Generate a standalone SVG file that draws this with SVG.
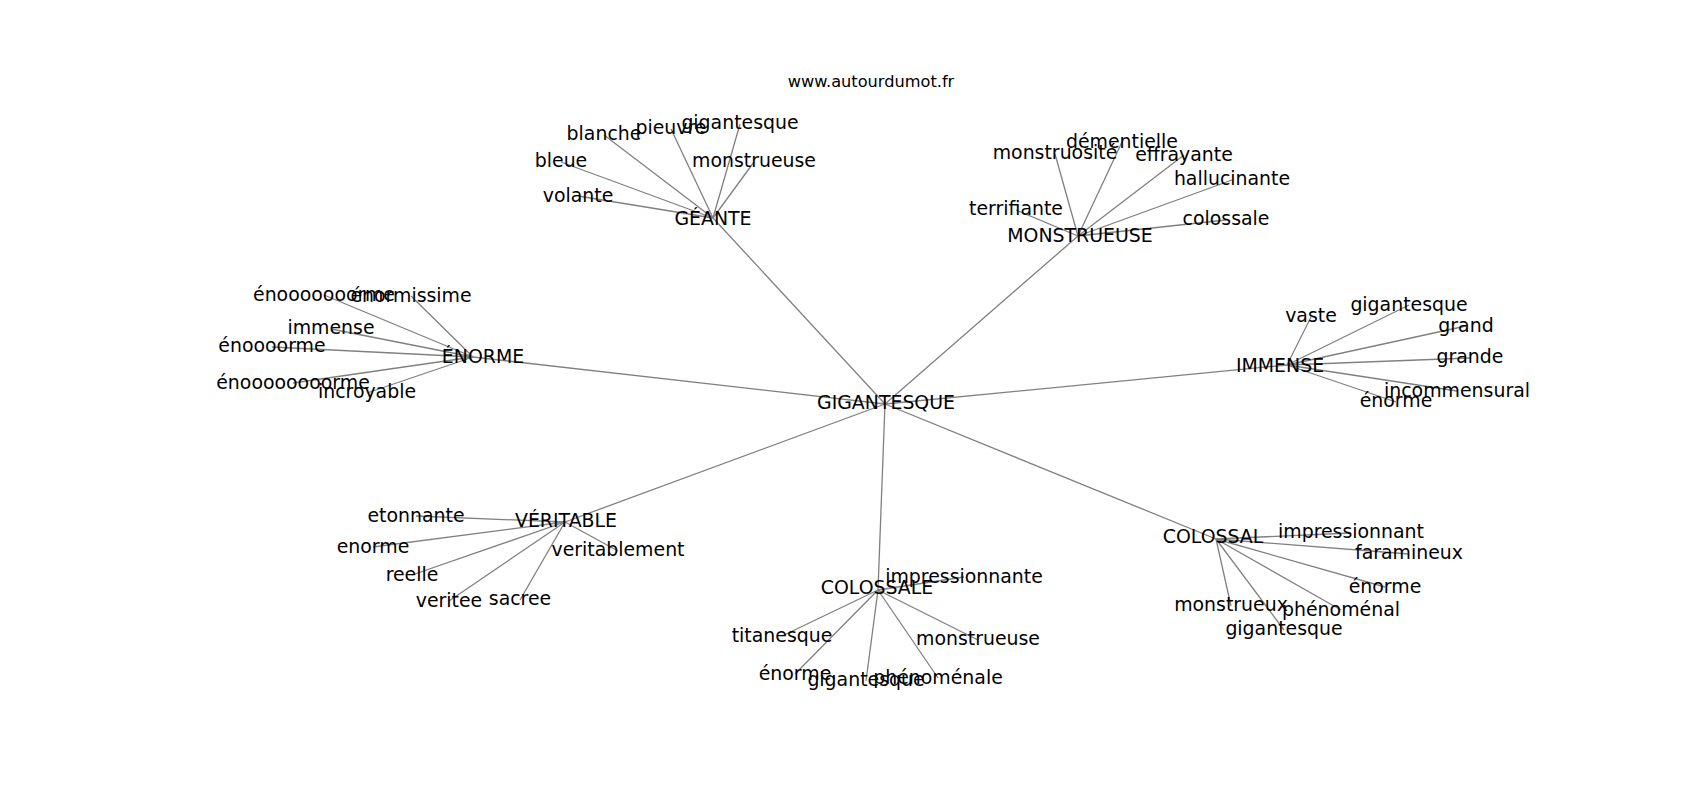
<svg xmlns="http://www.w3.org/2000/svg" width="1700" height="800" viewBox="0 0 1700 800">
<style>
.bg{fill:#ffffff}
.edges line{stroke:#808080;stroke-width:1.3;fill:none}
text{font-family:"DejaVu Sans","Liberation Sans",sans-serif;fill:#000000;text-anchor:middle}
.lbl{font-size:18.9px}
.title{font-size:16.2px}
</style>
<rect class="bg" x="0" y="0" width="1700" height="800"/>
<text class="title" x="871" y="87">www.autourdumot.fr</text>
<g id="connectors" class="edges">
<line x1="885" y1="404" x2="713" y2="218"/>
<line x1="885" y1="404" x2="1078" y2="236"/>
<line x1="885" y1="404" x2="473" y2="357"/>
<line x1="885" y1="404" x2="1287" y2="365"/>
<line x1="885" y1="404" x2="565" y2="522"/>
<line x1="885" y1="404" x2="878" y2="590"/>
<line x1="885" y1="404" x2="1216" y2="539"/>
<line x1="713" y1="218" x2="604" y2="135"/>
<line x1="713" y1="218" x2="671" y2="129"/>
<line x1="713" y1="218" x2="740" y2="124"/>
<line x1="713" y1="218" x2="561" y2="162"/>
<line x1="713" y1="218" x2="754" y2="162"/>
<line x1="713" y1="218" x2="578" y2="196"/>
<line x1="1078" y1="236" x2="1055" y2="154"/>
<line x1="1078" y1="236" x2="1122" y2="142"/>
<line x1="1078" y1="236" x2="1184" y2="155"/>
<line x1="1078" y1="236" x2="1232" y2="180"/>
<line x1="1078" y1="236" x2="1016" y2="210"/>
<line x1="1078" y1="236" x2="1226" y2="220"/>
<line x1="473" y1="357" x2="324" y2="295"/>
<line x1="473" y1="357" x2="411" y2="296"/>
<line x1="473" y1="357" x2="331" y2="329"/>
<line x1="473" y1="357" x2="272" y2="347"/>
<line x1="473" y1="357" x2="293" y2="383"/>
<line x1="473" y1="357" x2="367" y2="393"/>
<line x1="1287" y1="365" x2="1311" y2="317"/>
<line x1="1287" y1="365" x2="1409" y2="305"/>
<line x1="1287" y1="365" x2="1466" y2="326"/>
<line x1="1287" y1="365" x2="1470" y2="358"/>
<line x1="1287" y1="365" x2="1457" y2="391"/>
<line x1="1287" y1="365" x2="1396" y2="402"/>
<line x1="565" y1="522" x2="416" y2="516"/>
<line x1="565" y1="522" x2="373" y2="547"/>
<line x1="565" y1="522" x2="412" y2="575"/>
<line x1="565" y1="522" x2="449" y2="601"/>
<line x1="565" y1="522" x2="520" y2="600"/>
<line x1="565" y1="522" x2="618" y2="551"/>
<line x1="878" y1="590" x2="964" y2="577"/>
<line x1="878" y1="590" x2="782" y2="636"/>
<line x1="878" y1="590" x2="978" y2="640"/>
<line x1="878" y1="590" x2="795" y2="674"/>
<line x1="878" y1="590" x2="866" y2="681"/>
<line x1="878" y1="590" x2="938" y2="678"/>
<line x1="1216" y1="539" x2="1351" y2="533"/>
<line x1="1216" y1="539" x2="1409" y2="554"/>
<line x1="1216" y1="539" x2="1385" y2="587"/>
<line x1="1216" y1="539" x2="1231" y2="606"/>
<line x1="1216" y1="539" x2="1341" y2="610"/>
<line x1="1216" y1="539" x2="1284" y2="630"/>
</g>
<g id="n-gigantesque"><text class="lbl" x="886" y="409">GIGANTESQUE</text></g>
<g id="n-geante"><text class="lbl" x="713" y="225">GÉANTE</text></g>
<g id="n-monstrueuse"><text class="lbl" x="1080" y="242">MONSTRUEUSE</text></g>
<g id="n-enorme"><text class="lbl" x="483" y="363">ÉNORME</text></g>
<g id="n-immense"><text class="lbl" x="1280" y="372">IMMENSE</text></g>
<g id="n-veritable"><text class="lbl" x="566" y="527">VÉRITABLE</text></g>
<g id="n-colossale"><text class="lbl" x="877" y="594">COLOSSALE</text></g>
<g id="n-colossal"><text class="lbl" x="1213" y="543">COLOSSAL</text></g>
<g id="n-geante-blanche"><text class="lbl" x="604" y="140">blanche</text></g>
<g id="n-geante-pieuvre"><text class="lbl" x="671" y="134">pieuvre</text></g>
<g id="n-geante-gigantesque"><text class="lbl" x="740" y="129">gigantesque</text></g>
<g id="n-geante-bleue"><text class="lbl" x="561" y="167">bleue</text></g>
<g id="n-geante-monstrueuse"><text class="lbl" x="754" y="167">monstrueuse</text></g>
<g id="n-geante-volante"><text class="lbl" x="578" y="202">volante</text></g>
<g id="n-mon-monstruosite"><text class="lbl" x="1055" y="159">monstruosité</text></g>
<g id="n-mon-dementielle"><text class="lbl" x="1122" y="148">démentielle</text></g>
<g id="n-mon-effrayante"><text class="lbl" x="1184" y="161">effrayante</text></g>
<g id="n-mon-hallucinante"><text class="lbl" x="1232" y="185">hallucinante</text></g>
<g id="n-mon-terrifiante"><text class="lbl" x="1016" y="215">terrifiante</text></g>
<g id="n-mon-colossale"><text class="lbl" x="1226" y="225">colossale</text></g>
<g id="n-eno-e7"><text class="lbl" x="324" y="301">énooooooorme</text></g>
<g id="n-eno-enormissime"><text class="lbl" x="411" y="302">énormissime</text></g>
<g id="n-eno-immense"><text class="lbl" x="331" y="334">immense</text></g>
<g id="n-eno-e4"><text class="lbl" x="272" y="352">énoooorme</text></g>
<g id="n-eno-e8"><text class="lbl" x="293" y="389">énoooooooorme</text></g>
<g id="n-eno-incroyable"><text class="lbl" x="367" y="398">incroyable</text></g>
<g id="n-imm-vaste"><text class="lbl" x="1311" y="322">vaste</text></g>
<g id="n-imm-gigantesque"><text class="lbl" x="1409" y="311">gigantesque</text></g>
<g id="n-imm-grand"><text class="lbl" x="1466" y="332">grand</text></g>
<g id="n-imm-grande"><text class="lbl" x="1470" y="363">grande</text></g>
<g id="n-imm-incommensural"><text class="lbl" x="1457" y="397">incommensural</text></g>
<g id="n-imm-enorme"><text class="lbl" x="1396" y="407">énorme</text></g>
<g id="n-ver-etonnante"><text class="lbl" x="416" y="522">etonnante</text></g>
<g id="n-ver-enorme"><text class="lbl" x="373" y="553">enorme</text></g>
<g id="n-ver-reelle"><text class="lbl" x="412" y="581">reelle</text></g>
<g id="n-ver-veritee"><text class="lbl" x="449" y="607">veritee</text></g>
<g id="n-ver-sacree"><text class="lbl" x="520" y="605">sacree</text></g>
<g id="n-ver-veritablement"><text class="lbl" x="618" y="556">veritablement</text></g>
<g id="n-cle-impressionnante"><text class="lbl" x="964" y="583">impressionnante</text></g>
<g id="n-cle-titanesque"><text class="lbl" x="782" y="642">titanesque</text></g>
<g id="n-cle-monstrueuse"><text class="lbl" x="978" y="645">monstrueuse</text></g>
<g id="n-cle-enorme"><text class="lbl" x="795" y="680">énorme</text></g>
<g id="n-cle-gigantesque"><text class="lbl" x="866" y="686">gigantesque</text></g>
<g id="n-cle-phenomenale"><text class="lbl" x="938" y="684">phénoménale</text></g>
<g id="n-cl-impressionnant"><text class="lbl" x="1351" y="538">impressionnant</text></g>
<g id="n-cl-faramineux"><text class="lbl" x="1409" y="559">faramineux</text></g>
<g id="n-cl-enorme"><text class="lbl" x="1385" y="593">énorme</text></g>
<g id="n-cl-monstrueux"><text class="lbl" x="1231" y="611">monstrueux</text></g>
<g id="n-cl-phenomenal"><text class="lbl" x="1341" y="616">phénoménal</text></g>
<g id="n-cl-gigantesque"><text class="lbl" x="1284" y="635">gigantesque</text></g>
</svg>
